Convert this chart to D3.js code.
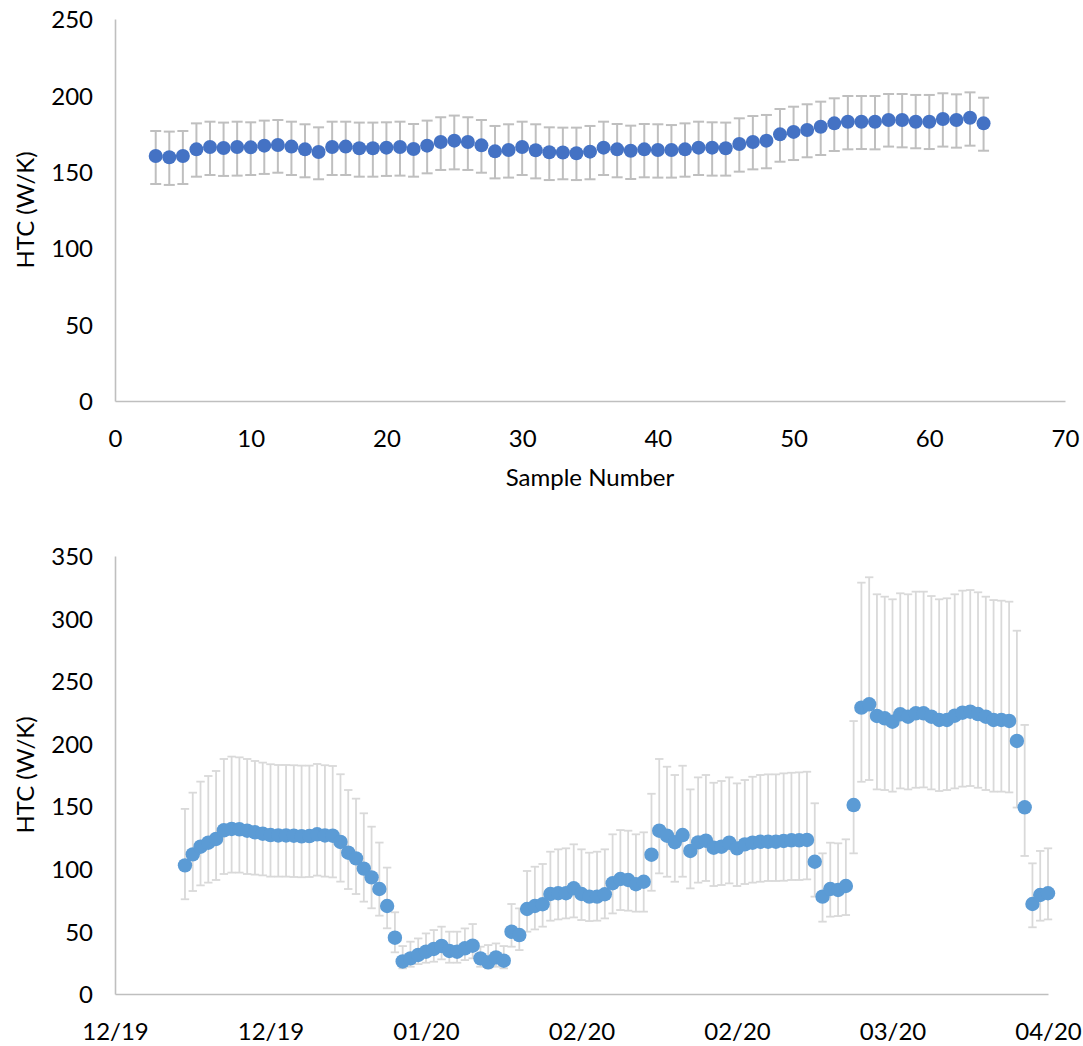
<!DOCTYPE html>
<html>
<head>
<meta charset="utf-8">
<script src="https://cdn.jsdelivr.net/npm/d3@7"></script>
<style>
  html, body { margin: 0; padding: 0; background: #fff; }
  svg text { font-family: Lato, "Open Sans", sans-serif; fill: #000; }
</style>
</head>
<body>
<svg id="chart" width="1083" height="1046"></svg>
<script>
// ---------- Top chart data (sample number vs HTC) ----------
const topSamples = d3.range(3, 65); // sample numbers 3..64
const topValues = [160.3,159.5,160.3,164.7,166.2,165.6,166.2,166.0,167.1,167.5,166.5,164.7,163.0,166.2,166.5,165.4,165.4,165.8,166.2,164.9,167.1,169.5,170.4,169.5,167.3,163.4,164.3,166.2,164.1,162.8,162.6,162.1,163.2,165.8,164.7,163.8,164.7,164.3,164.3,164.7,165.8,165.8,165.4,168.2,169.5,170.4,174.5,176.1,177.4,179.5,181.7,182.8,182.8,182.8,183.9,183.9,182.8,182.8,184.6,183.9,185.4,181.7];
const topHigh = [176.7,176.3,176.7,181.7,182.8,182.2,182.8,182.4,183.5,183.9,182.8,181.1,179.1,182.8,182.8,182.2,182.2,182.4,182.8,181.3,183.5,185.7,186.8,185.7,183.9,180.0,181.1,182.8,181.1,179.1,178.9,178.9,180.0,182.8,181.3,180.2,181.3,181.1,180.6,181.7,182.8,182.4,182.2,185.0,186.5,187.2,191.1,192.6,194.2,195.9,198.1,199.6,199.6,199.6,200.9,200.9,200.3,200.3,201.4,200.7,202.0,198.5];
const topLow = [142.0,141.4,142.0,146.8,147.9,147.3,147.5,147.9,148.6,149.4,147.9,146.4,145.1,147.9,147.9,146.8,146.8,147.3,147.5,146.8,149.0,151.2,151.6,151.2,149.4,145.7,146.2,147.9,145.7,144.6,145.1,144.6,145.1,147.9,146.4,145.3,146.4,146.2,146.2,146.8,147.9,147.5,147.5,150.1,151.6,152.3,156.6,157.7,159.5,161.0,163.6,164.7,164.9,164.7,166.5,166.0,165.4,164.9,166.5,165.8,167.1,163.8];
const topXTicks = [0,10,20,30,40,50,60,70];
const topYTicks = [0,50,100,150,200,250];

// ---------- Bottom chart data (daily dates vs HTC) ----------
const bottomStart = "2019-12-15";
const bottomValues = [102.8,111.6,117.7,120.9,123.9,130.8,131.9,131.6,130.5,129.2,128.1,127.0,126.7,126.7,126.5,126.0,126.2,127.6,126.7,126.5,121.5,112.9,108.4,100.2,93.2,83.9,70.3,45.0,26.0,28.5,31.2,33.8,36.0,38.4,34.4,33.8,36.5,38.6,28.5,25.3,29.3,26.6,49.8,47.1,67.9,70.3,71.7,79.9,80.5,80.5,84.5,79.9,77.8,77.8,79.7,88.5,91.9,91.1,87.7,89.7,111.3,130.5,126.5,121.3,127.0,114.3,121.2,122.5,116.9,117.7,120.9,116.4,119.6,120.9,121.7,121.7,121.7,122.3,122.8,122.8,123.1,105.7,77.8,83.9,83.1,86.3,151.0,228.8,231.5,222.2,220.3,217.6,223.5,221.6,224.3,224.3,221.6,219.0,219.0,222.4,224.8,225.6,223.7,221.6,219.0,219.0,218.2,202.2,149.2,71.9,79.1,80.5];
const bottomHigh = [147.9,160.9,169.7,174.2,178.2,187.8,189.7,189.1,187.8,186.2,184.9,183.6,183.0,183.0,182.8,182.5,182.5,183.8,182.8,182.2,175.6,163.0,156.1,144.4,133.7,121.0,101.0,65.3,38.3,41.8,44.4,48.4,51.1,53.8,49.8,49.8,52.4,55.9,37.8,39.1,40.4,38.3,71.9,68.4,98.3,101.7,103.9,113.7,115.6,116.4,119.6,115.6,112.9,113.7,115.6,127.6,131.0,130.5,127.6,129.2,160.0,187.8,181.6,175.0,182.4,163.5,173.1,175.0,168.8,170.2,173.1,168.3,171.0,173.6,175.0,175.5,175.5,176.3,176.8,177.1,177.6,152.4,112.4,120.9,120.4,123.6,218.1,328.7,333.0,319.4,317.5,315.4,320.2,319.4,321.5,321.5,318.0,315.4,316.2,319.4,322.3,322.8,321.0,317.5,314.8,314.3,313.5,290.3,215.0,104.4,114.3,116.4];
const bottomLow = [75.7,82.3,86.8,89.0,91.1,95.9,97.0,97.0,95.9,95.4,94.8,93.8,93.8,93.8,93.5,93.3,93.5,94.6,93.8,93.2,89.8,83.9,79.9,73.8,68.5,62.6,52.5,33.3,20.5,21.8,23.9,25.0,25.8,27.7,25.0,25.0,27.1,28.5,21.8,20.5,21.8,20.5,37.8,35.1,49.8,51.6,53.8,58.6,59.6,60.4,61.2,59.1,58.3,58.6,60.4,64.4,67.1,66.6,65.8,65.8,82.5,96.4,93.7,89.7,93.7,84.4,89.0,90.3,86.3,87.1,88.4,86.3,87.9,89.0,89.7,90.3,90.3,90.5,91.1,91.1,91.6,77.8,57.8,61.8,62.3,63.1,112.4,169.6,171.0,163.5,163.0,161.7,164.3,163.5,164.8,165.1,163.5,162.2,163.0,164.3,165.7,166.2,164.8,163.0,161.7,161.7,161.1,149.0,110.3,53.3,58.6,59.6];
const bottomXDomain = ["2019-12-06", "2020-04-04"];
const bottomXTickDays = 20;
const bottomYTicks = [0,50,100,150,200,250,300,350];

const svg = d3.select("#chart");
const parse = d3.timeParse("%Y-%m-%d");
const AXIS = "#BFBFBF";

function yAxis(g, y, x0, ticks) {
  const ax = g.append("g").attr("transform", `translate(${x0},0)`)
    .call(d3.axisLeft(y).tickValues(ticks).tickSize(0).tickPadding(22).tickSizeOuter(0));
  ax.select(".domain").attr("stroke", AXIS).attr("stroke-width", 1.6);
  ax.selectAll("text").attr("font-size", 24).attr("dy", "0.36em");
}
function xAxis(g, x, y0, ticks, fmt) {
  const ax = g.append("g").attr("transform", `translate(0,${y0})`)
    .call(d3.axisBottom(x).tickValues(ticks).tickSize(0).tickPadding(0).tickSizeOuter(0).tickFormat(fmt));
  ax.select(".domain").attr("stroke", AXIS).attr("stroke-width", 1.6);
  ax.selectAll("text").attr("font-size", 24).attr("y", 37).attr("dy", "0.36em");
}

// ---------- Top chart ----------
{
  const x = d3.scaleLinear().domain([0, 70]).range([115, 1065]);
  const y = d3.scaleLinear().domain([0, 250]).range([401, 19]);
  const g = svg.append("g");
  yAxis(g, y, 115, topYTicks);
  xAxis(g, x, 401, topXTicks, d3.format("d"));
  const data = topSamples.map((s, i) => ({x: s, v: topValues[i], hi: topHigh[i], lo: topLow[i]}));
  const eb = g.append("g").attr("stroke", "#BFBFBF").attr("stroke-width", 2).attr("fill", "none");
  const cap = 5.5;
  data.forEach(d => {
    const cx = x(d.x);
    eb.append("line").attr("x1", cx).attr("x2", cx).attr("y1", y(d.hi)).attr("y2", y(d.lo));
    eb.append("line").attr("x1", cx - cap).attr("x2", cx + cap).attr("y1", y(d.hi)).attr("y2", y(d.hi));
    eb.append("line").attr("x1", cx - cap).attr("x2", cx + cap).attr("y1", y(d.lo)).attr("y2", y(d.lo));
  });
  g.append("g").selectAll("circle").data(data).join("circle")
    .attr("cx", d => x(d.x)).attr("cy", d => y(d.v)).attr("r", 7).attr("fill", "#4472C4");
  g.append("text").attr("transform", "translate(34,210) rotate(-90)")
    .attr("text-anchor", "middle").attr("font-size", 24).text("HTC (W/K)");
  g.append("text").attr("x", 590).attr("y", 486).attr("text-anchor", "middle")
    .attr("font-size", 24).text("Sample Number");
}

// ---------- Bottom chart ----------
{
  const start = parse(bottomStart);
  const dates = bottomValues.map((v, i) => d3.timeDay.offset(start, i));
  const x = d3.scaleTime().domain(bottomXDomain.map(parse)).range([115, 1048]);
  const y = d3.scaleLinear().domain([0, 350]).range([994, 556]);
  const g = svg.append("g");
  yAxis(g, y, 115, bottomYTicks);
  const d0 = parse(bottomXDomain[0]), d1 = parse(bottomXDomain[1]);
  const xt = d3.timeDay.every(1).range(d0, d3.timeDay.offset(d1, 1)).filter((d, i) => i % bottomXTickDays === 0);
  xAxis(g, x, 994, xt, d3.timeFormat("%m/%y"));
  const data = dates.map((d, i) => ({x: d, v: bottomValues[i], hi: bottomHigh[i], lo: bottomLow[i]}));
  const eb = g.append("g").attr("stroke", "#D9D9D9").attr("stroke-width", 1.8).attr("fill", "none");
  const cap = 4.2;
  data.forEach(d => {
    const cx = x(d.x);
    eb.append("line").attr("x1", cx).attr("x2", cx).attr("y1", y(d.hi)).attr("y2", y(d.lo));
    eb.append("line").attr("x1", cx - cap).attr("x2", cx + cap).attr("y1", y(d.hi)).attr("y2", y(d.hi));
    eb.append("line").attr("x1", cx - cap).attr("x2", cx + cap).attr("y1", y(d.lo)).attr("y2", y(d.lo));
  });
  g.append("g").selectAll("circle").data(data).join("circle")
    .attr("cx", d => x(d.x)).attr("cy", d => y(d.v)).attr("r", 7.2).attr("fill", "#5B9BD5");
  g.append("text").attr("transform", "translate(34,775) rotate(-90)")
    .attr("text-anchor", "middle").attr("font-size", 24).text("HTC (W/K)");
}
</script>
</body>
</html>
